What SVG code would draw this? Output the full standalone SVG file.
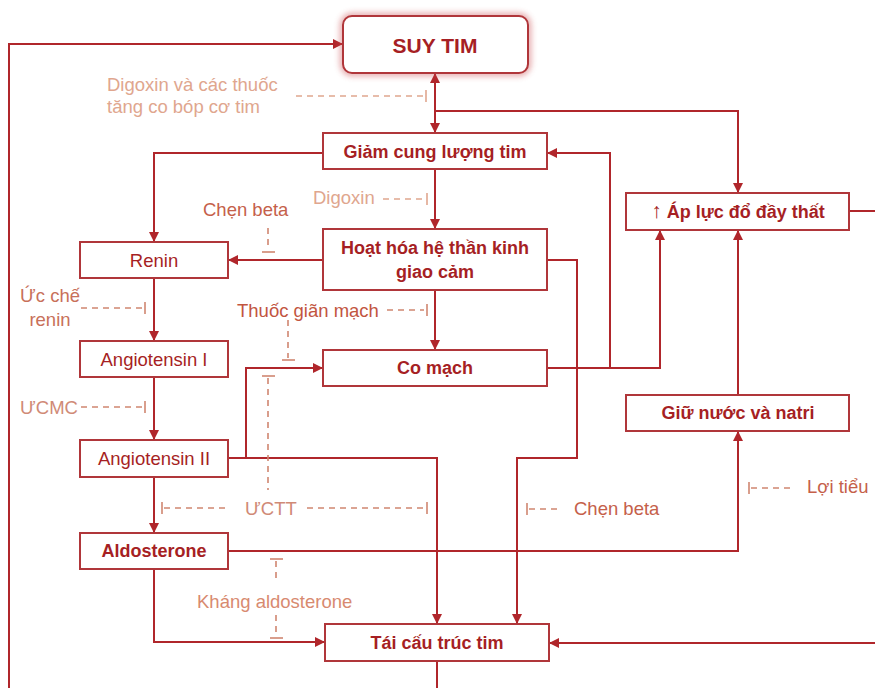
<svg xmlns="http://www.w3.org/2000/svg" width="875" height="688" viewBox="0 0 875 688">
<defs>
<style>
.box{fill:#fff;stroke:#b0363a;stroke-width:2}
.t{font-family:"Liberation Sans",Arial,sans-serif;fill:#a61f24;text-anchor:middle}
.b{font-weight:bold;font-size:18px}
.r{font-size:18.5px}
.d{font-family:"Liberation Sans",Arial,sans-serif;font-size:18.5px}
.c{fill:none;stroke:#b0262b;stroke-width:2}
.ds{fill:none;stroke-width:1.6;stroke-dasharray:6 5}
.tk{fill:none;stroke-width:1.6}
</style>
<marker id="ah" viewBox="0 0 10 10" refX="10" refY="5" markerWidth="5" markerHeight="5" orient="auto-start-reverse" markerUnits="strokeWidth">
<path d="M0,0 L10,5 L0,10 Z" fill="#b0262b"/>
</marker>
<filter id="glow" x="-20%" y="-30%" width="140%" height="160%">
<feGaussianBlur stdDeviation="3"/>
</filter>
</defs>

<g id="connectors">
<polyline class="c" points="9,688 9,44 343,44" marker-end="url(#ah)"/>
<line class="c" x1="435" y1="133" x2="435" y2="73" marker-start="url(#ah)" marker-end="url(#ah)"/>
<polyline class="c" points="435,111 738,111 738,193" marker-end="url(#ah)"/>
<polyline class="c" points="323,153 154,153 154,242" marker-end="url(#ah)"/>
<line class="c" x1="435" y1="169" x2="435" y2="229" marker-end="url(#ah)"/>
<line class="c" x1="323" y1="260" x2="228" y2="260" marker-end="url(#ah)"/>
<polyline class="c" points="547,260 577,260 577,458 517,458 517,624" marker-end="url(#ah)"/>
<line class="c" x1="435" y1="290" x2="435" y2="350" marker-end="url(#ah)"/>
<polyline class="c" points="547,368 660,368 660,230" marker-end="url(#ah)"/>
<polyline class="c" points="610,368 610,153 547,153" marker-end="url(#ah)"/>
<line class="c" x1="849" y1="211" x2="875" y2="211"/>
<line class="c" x1="738" y1="395" x2="738" y2="230" marker-end="url(#ah)"/>
<line class="c" x1="154" y1="278" x2="154" y2="341" marker-end="url(#ah)"/>
<line class="c" x1="154" y1="377" x2="154" y2="440" marker-end="url(#ah)"/>
<line class="c" x1="154" y1="477" x2="154" y2="533" marker-end="url(#ah)"/>
<polyline class="c" points="228,458 246,458 246,368 323,368" marker-end="url(#ah)"/>
<polyline class="c" points="246,458 437,458 437,624" marker-end="url(#ah)"/>
<polyline class="c" points="228,551 738,551 738,431" marker-end="url(#ah)"/>
<polyline class="c" points="154,569 154,642 325,642" marker-end="url(#ah)"/>
<line class="c" x1="875" y1="643" x2="549" y2="643" marker-end="url(#ah)"/>
<line class="c" x1="437" y1="661" x2="437" y2="688"/>
</g>

<g id="inhibitors">
<g stroke="#e0a68e">
<line class="ds" x1="296" y1="96" x2="424" y2="96"/><line class="tk" x1="426" y1="90" x2="426" y2="102"/>
<line class="ds" x1="383" y1="199" x2="424" y2="199"/><line class="tk" x1="427" y1="193" x2="427" y2="205"/>
</g>
<g stroke="#d08670">
<line class="ds" x1="268" y1="228" x2="268" y2="250"/><line class="tk" x1="262" y1="252" x2="275" y2="252"/>
<line class="ds" x1="81" y1="308" x2="142" y2="308"/><line class="tk" x1="145" y1="302" x2="145" y2="314"/>
<line class="ds" x1="81" y1="407" x2="142" y2="407"/><line class="tk" x1="145" y1="401" x2="145" y2="413"/>
<line class="ds" x1="387" y1="310" x2="424" y2="310"/><line class="tk" x1="427" y1="304" x2="427" y2="316"/>
<line class="ds" x1="288" y1="320" x2="288" y2="358"/><line class="tk" x1="282" y1="360" x2="295" y2="360"/>
<line class="tk" x1="262" y1="376" x2="275" y2="376"/><line class="ds" x1="268" y1="378" x2="268" y2="490"/>
<line class="tk" x1="162" y1="502" x2="162" y2="514"/><line class="ds" x1="164" y1="508" x2="230" y2="508"/>
<line class="ds" x1="307" y1="508" x2="424" y2="508"/><line class="tk" x1="427" y1="502" x2="427" y2="514"/>
<line class="tk" x1="270" y1="559" x2="283" y2="559"/><line class="ds" x1="276" y1="561" x2="276" y2="583"/>
<line class="ds" x1="276" y1="615" x2="276" y2="636"/><line class="tk" x1="270" y1="638" x2="283" y2="638"/>
<line class="tk" x1="527" y1="503" x2="527" y2="515"/><line class="ds" x1="529" y1="509" x2="560" y2="509"/>
<line class="tk" x1="749" y1="482" x2="749" y2="494"/><line class="ds" x1="751" y1="488" x2="790" y2="488"/>
</g>
</g>

<g id="drug-labels" class="d">
<text x="107" y="91" fill="#e0a68e">Digoxin và các thuốc</text>
<text x="107" y="113" fill="#e0a68e">tăng co bóp cơ tim</text>
<text x="313" y="204" fill="#e0a68e">Digoxin</text>
<text x="203" y="216" fill="#c5604a">Chẹn beta</text>
<text x="50" y="302" fill="#c8705a" text-anchor="middle">Ức chế</text>
<text x="50" y="326" fill="#c8705a" text-anchor="middle">renin</text>
<text x="20" y="414" fill="#d08a76">ƯCMC</text>
<text x="237" y="317" fill="#c2553f">Thuốc giãn mạch</text>
<text x="245" y="515" fill="#d08a76">ƯCTT</text>
<text x="197" y="608" fill="#d88a70">Kháng aldosterone</text>
<text x="574" y="515" fill="#c5604a">Chẹn beta</text>
<text x="807" y="493" fill="#c5604a">Lợi tiểu</text>
</g>

<g id="suy-tim">
<rect x="343" y="16" width="185" height="57" rx="9" fill="none" stroke="#c8464a" stroke-width="5" opacity="0.6" filter="url(#glow)"/>
<rect class="box" x="343" y="16" width="185" height="57" rx="9"/>
<text class="t" x="435" y="53" font-weight="bold" font-size="21">SUY TIM</text>
</g>
<g id="giam-cung-luong">
<rect class="box" x="323" y="133" width="224" height="36"/>
<text class="t b" x="435" y="158">Giảm cung lượng tim</text>
</g>
<g id="hoat-hoa">
<rect class="box" x="323" y="229" width="224" height="61"/>
<text class="t b" x="435" y="254">Hoạt hóa hệ thần kinh</text>
<text class="t b" x="435" y="278">giao cảm</text>
</g>
<g id="co-mach">
<rect class="box" x="323" y="350" width="224" height="36"/>
<text class="t b" x="435" y="374">Co mạch</text>
</g>
<g id="ap-luc">
<rect class="box" x="626" y="193" width="223" height="37"/>
<text class="t b" x="738" y="218"><tspan font-size="21">↑</tspan> Áp lực đổ đầy thất</text>
</g>
<g id="giu-nuoc">
<rect class="box" x="626" y="395" width="223" height="36"/>
<text class="t b" x="738" y="419">Giữ nước và natri</text>
</g>
<g id="renin">
<rect class="box" x="80" y="242" width="148" height="36"/>
<text class="t r" x="154" y="267">Renin</text>
</g>
<g id="angiotensin-1">
<rect class="box" x="80" y="341" width="148" height="36"/>
<text class="t r" x="154" y="366">Angiotensin I</text>
</g>
<g id="angiotensin-2">
<rect class="box" x="80" y="440" width="148" height="37"/>
<text class="t r" x="154" y="465">Angiotensin II</text>
</g>
<g id="aldosterone">
<rect class="box" x="80" y="533" width="148" height="36"/>
<text class="t b" x="154" y="557">Aldosterone</text>
</g>
<g id="tai-cau-truc">
<rect class="box" x="325" y="624" width="224" height="37"/>
<text class="t b" x="437" y="649">Tái cấu trúc tim</text>
</g>
</svg>
